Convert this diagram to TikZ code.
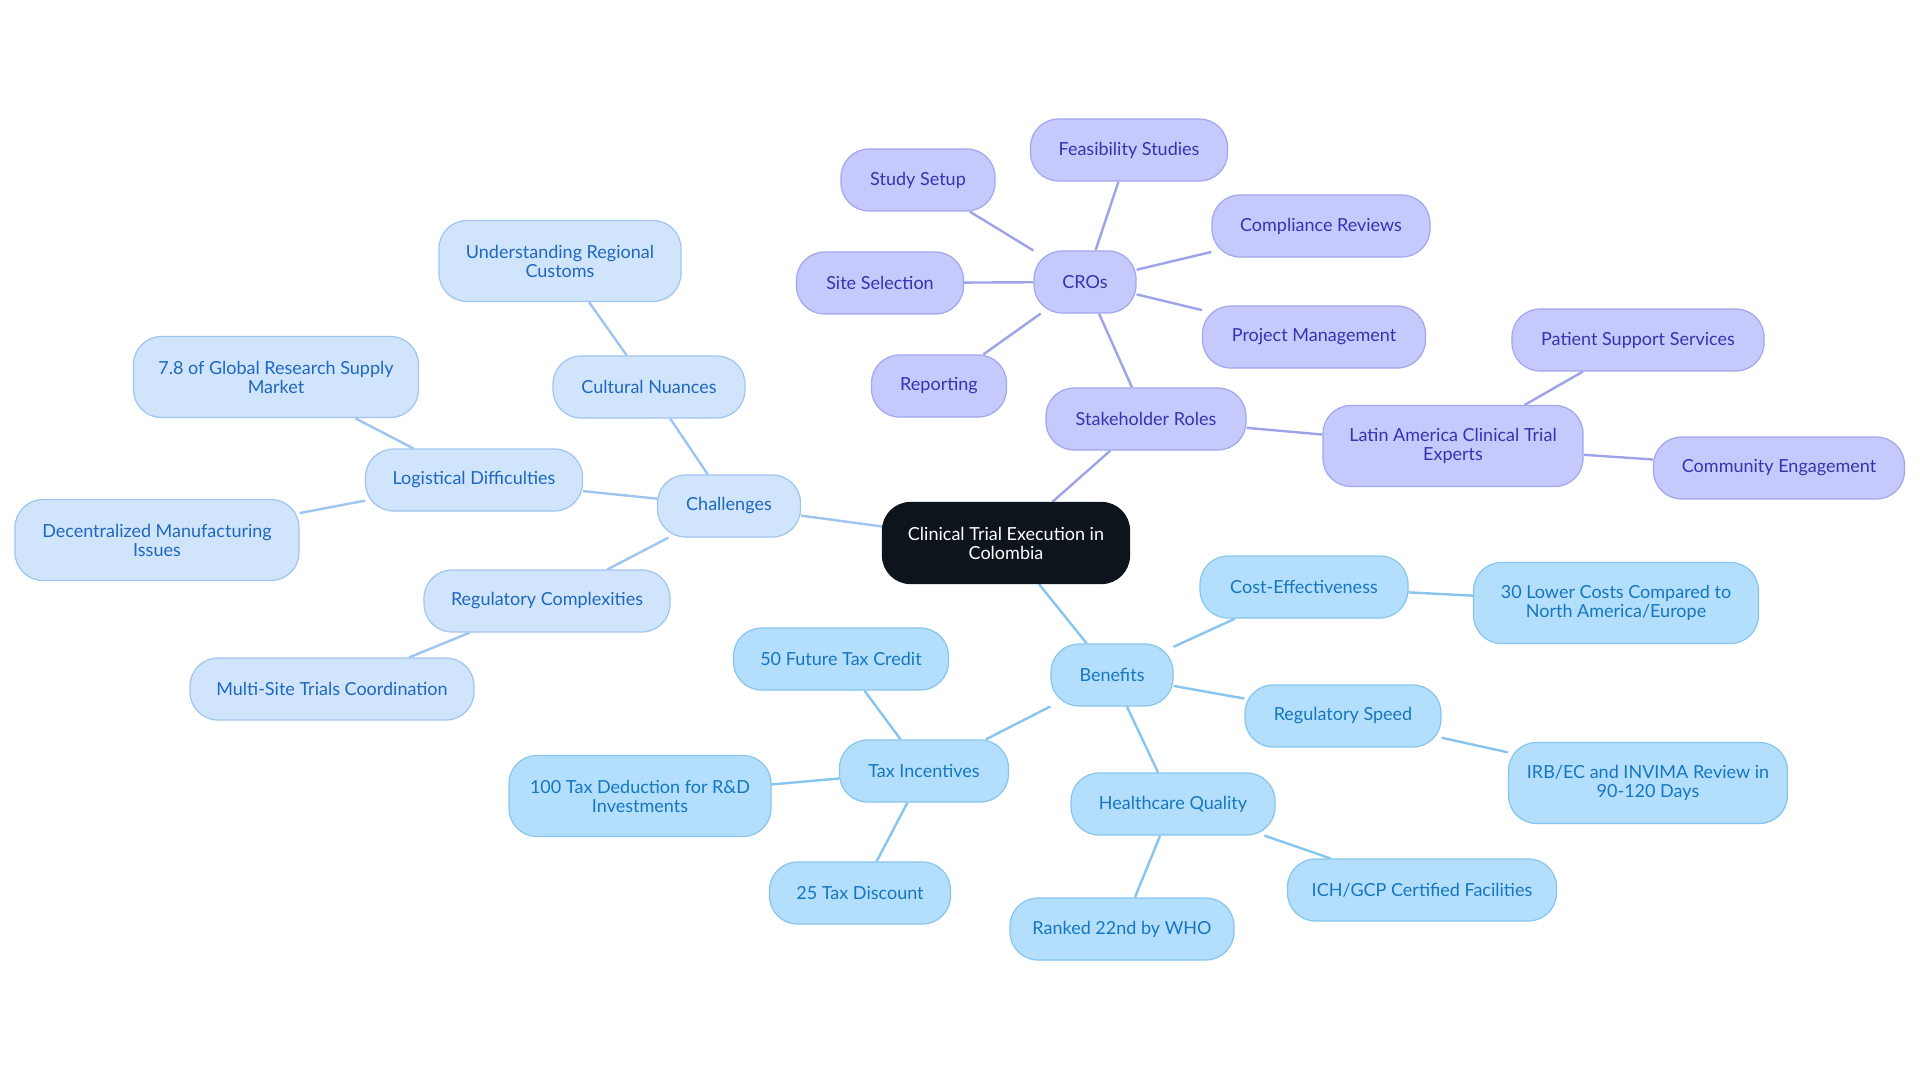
\documentclass[tikz,border=0pt]{standalone}
\usepackage{fontspec}
\setmainfont{Lato}
\usetikzlibrary{backgrounds}
\definecolor{pfill}{HTML}{C6C9FB}
\definecolor{pdraw}{HTML}{A2A6EE}
\definecolor{ptext}{HTML}{3434B0}
\definecolor{pedge}{HTML}{9EA2E8}
\definecolor{cfill}{HTML}{D0E4FB}
\definecolor{cdraw}{HTML}{9FC5EE}
\definecolor{ctext}{HTML}{1F68BE}
\definecolor{cedge}{HTML}{9FC5EE}
\definecolor{bfill}{HTML}{B3DEFC}
\definecolor{bdraw}{HTML}{87C5EE}
\definecolor{btext}{HTML}{1677C0}
\definecolor{bedge}{HTML}{87C5EE}
\definecolor{rootfill}{HTML}{0D141C}
\tikzset{
  base/.style={rounded corners=28pt, line width=1.2pt, align=center, inner sep=0pt,
    minimum height=62pt, font=\fontsize{18}{19}\selectfont},
  tall/.style={minimum height=81pt},
  pnode/.style={base, fill=pfill, draw=pdraw, text=ptext},
  cnode/.style={base, fill=cfill, draw=cdraw, text=ctext},
  bnode/.style={base, fill=bfill, draw=bdraw, text=btext},
  rootnode/.style={base, tall, fill=rootfill, draw=rootfill, text=white},
  pe/.style={draw=pedge, line width=2.4pt},
  ce/.style={draw=cedge, line width=2.4pt},
  be/.style={draw=bedge, line width=2.4pt},
}
\begin{document}
\begin{tikzpicture}[x=1pt,y=-1pt]
\useasboundingbox (0,0) rectangle (1920,1083);
% root
\node[rootnode, minimum width=247pt] (root) at (1006,543) {Clinical Trial Execution in\\Colombia};
% purple group
\node[pnode, minimum width=197pt] (feas) at (1129,150) {Feasibility Studies};
\node[pnode, minimum width=154pt] (setup) at (918,180) {Study Setup};
\node[pnode, minimum width=218pt] (comp) at (1321,226) {Compliance Reviews};
\node[pnode, minimum width=102pt] (cros) at (1085,282) {CROs};
\node[pnode, minimum width=167pt] (site) at (880,283) {Site Selection};
\node[pnode, minimum width=223pt] (proj) at (1314,337) {Project Management};
\node[pnode, minimum width=135pt] (rep) at (939,386) {Reporting};
\node[pnode, minimum width=200pt] (stake) at (1146,419) {Stakeholder Roles};
\node[pnode, tall, minimum width=260pt] (latam) at (1453,446) {Latin America Clinical Trial\\Experts};
\node[pnode, minimum width=252pt] (pss) at (1638,340) {Patient Support Services};
\node[pnode, minimum width=251pt] (comm) at (1779,468) {Community Engagement};
% challenges group
\node[cnode, tall, minimum width=242pt] (cust) at (560,261) {Understanding Regional\\Customs};
\node[cnode, tall, minimum width=285pt] (supply) at (276,377) {7.8 of Global Research Supply\\Market};
\node[cnode, minimum width=192pt] (cult) at (649,387) {Cultural Nuances};
\node[cnode, minimum width=217pt] (logi) at (474,480) {Logistical Difficulties};
\node[cnode, minimum width=143pt] (chal) at (729,506) {Challenges};
\node[cnode, tall, minimum width=284pt] (decen) at (157,540) {Decentralized Manufacturing\\Issues};
\node[cnode, minimum width=246pt] (regc) at (547,601) {Regulatory Complexities};
\node[cnode, minimum width=284pt] (multi) at (332,689) {Multi-Site Trials Coordination};
% benefits group
\node[bnode, minimum width=208pt] (cost) at (1304,587) {Cost-Effectiveness};
\node[bnode, tall, minimum width=285pt] (lower) at (1616,603) {30 Lower Costs Compared to\\North America/Europe};
\node[bnode, minimum width=122pt] (ben) at (1112,675) {Benefits};
\node[bnode, minimum width=215pt] (fut) at (841,659) {50 Future Tax Credit};
\node[bnode, minimum width=196pt] (regs) at (1343,716) {Regulatory Speed};
\node[bnode, minimum width=169pt] (tax) at (924,771) {Tax Incentives};
\node[bnode, tall, minimum width=262pt] (ded) at (640,796) {100 Tax Deduction for R\&D\\Investments};
\node[bnode, tall, minimum width=279pt] (irb) at (1648,783) {IRB/EC and INVIMA Review in\\90-120 Days};
\node[bnode, minimum width=204pt] (hq) at (1173,804) {Healthcare Quality};
\node[bnode, minimum width=269pt] (ich) at (1422,890) {ICH/GCP Certified Facilities};
\node[bnode, minimum width=181pt] (disc) at (860,893) {25 Tax Discount};
\node[bnode, minimum width=224pt] (who) at (1122,929) {Ranked 22nd by WHO};
\begin{pgfonlayer}{background}
\draw[pe] (root) -- (stake);
\draw[ce] (root) -- (chal);
\draw[be] (root) -- (ben);
\draw[pe] (stake) -- (cros);
\draw[pe] (stake) -- (latam);
\draw[pe] (cros) -- (feas);
\draw[pe] (cros) -- (setup);
\draw[pe] (cros) -- (comp);
\draw[pe] (cros) -- (site);
\draw[pe] (cros) -- (proj);
\draw[pe] (cros) -- (rep);
\draw[pe] (latam) -- (pss);
\draw[pe] (latam) -- (comm);
\draw[ce] (chal) -- (cult);
\draw[ce] (chal) -- (logi);
\draw[ce] (chal) -- (regc);
\draw[ce] (cult) -- (cust);
\draw[ce] (logi) -- (supply);
\draw[ce] (logi) -- (decen);
\draw[ce] (regc) -- (multi);
\draw[be] (ben) -- (cost);
\draw[be] (ben) -- (regs);
\draw[be] (ben) -- (hq);
\draw[be] (ben) -- (tax);
\draw[be] (cost) -- (lower);
\draw[be] (regs) -- (irb);
\draw[be] (hq) -- (ich);
\draw[be] (hq) -- (who);
\draw[be] (tax) -- (fut);
\draw[be] (tax) -- (ded);
\draw[be] (tax) -- (disc);
\end{pgfonlayer}
\end{tikzpicture}
\end{document}
